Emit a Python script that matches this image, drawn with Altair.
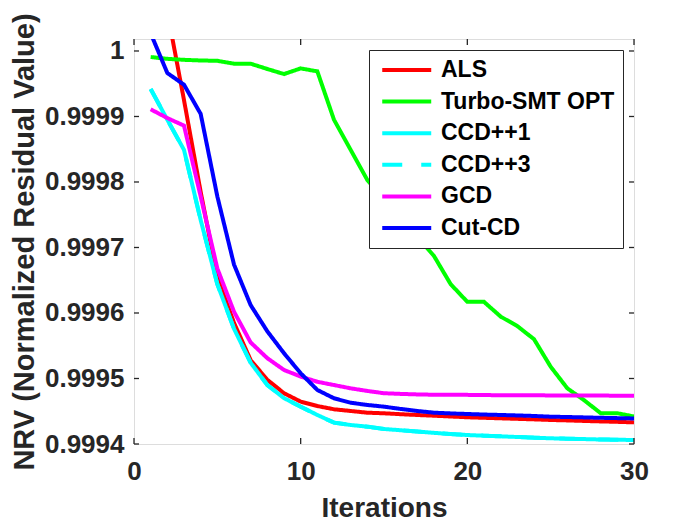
import altair as alt
import pandas as pd

iterations = list(range(1, 31))
series_names = ["ALS", "Turbo-SMT OPT", "CCD++1", "CCD++3", "GCD", "Cut-CD"]
series_colors = ["#FF0000", "#00FF00", "#00FFFF", "#00FFFF", "#FF00FF", "#0000FF"]
series_dash = [[1, 0], [1, 0], [1, 0], [20, 19], [1, 0], [1, 0]]

als = [1.00015, 1.00006, 0.999925, 0.999785, 0.999655, 0.999585, 0.999528, 0.999498, 0.9994775, 0.9994647,
       0.999458, 0.999453, 0.9994504, 0.9994478, 0.9994469, 0.9994455, 0.9994443, 0.9994432, 0.999442, 0.9994408,
       0.99944, 0.9994392, 0.9994384, 0.9994376, 0.9994367, 0.999436, 0.9994352, 0.9994345, 0.9994338, 0.999433]
turbo = [0.9999908, 0.999988, 0.9999865, 0.9999855, 0.999985, 0.9999806, 0.9999806, 0.9999725, 0.9999648, 0.9999734,
         0.9999689, 0.999895, 0.999849, 0.999803, 0.999774, 0.999745, 0.999716, 0.999687, 0.999644, 0.999617,
         0.999617, 0.9995945, 0.99958, 0.99956, 0.999518, 0.999485, 0.999467, 0.999447, 0.999447, 0.999442]
ccd1 = [0.999942, 0.999895, 0.999849, 0.999742, 0.999644, 0.999576, 0.999524, 0.99949, 0.99947, 0.999457,
        0.9994443, 0.9994326, 0.999429, 0.9994265, 0.9994229, 0.999421, 0.999419, 0.999417, 0.9994152, 0.9994137,
        0.9994127, 0.9994117, 0.9994107, 0.9994097, 0.9994087, 0.9994081, 0.9994075, 0.9994069, 0.9994065, 0.9994061]
ccd3 = [0.999942, 0.999895, 0.999849, 0.999742, 0.999644, 0.999576, 0.999524, 0.99949, 0.99947, 0.999457,
        0.9994443, 0.9994326, 0.999429, 0.9994265, 0.9994229, 0.999421, 0.999419, 0.999417, 0.9994152, 0.9994137,
        0.9994127, 0.9994117, 0.9994107, 0.9994097, 0.9994087, 0.9994081, 0.9994075, 0.9994069, 0.9994065, 0.9994061]
gcd = [0.999911, 0.9998976, 0.999886, 0.999778, 0.999668, 0.999602, 0.999555, 0.999531, 0.999513, 0.999503,
       0.999495, 0.99949, 0.999485, 0.999481, 0.9994775, 0.9994765, 0.9994757, 0.9994752, 0.999475, 0.999475,
       0.9994747, 0.9994745, 0.9994744, 0.9994743, 0.9994742, 0.9994741, 0.999474, 0.9994739, 0.9994738, 0.9994737]
cutcd = [1.000027, 0.9999664, 0.9999485, 0.999904, 0.999778, 0.999674, 0.999612, 0.999572, 0.9995386, 0.999508,
         0.9994825, 0.9994698, 0.999463, 0.9994596, 0.999457, 0.9994535, 0.9994504, 0.9994478, 0.9994467, 0.9994458,
         0.999445, 0.9994443, 0.9994436, 0.9994428, 0.9994417, 0.9994412, 0.9994406, 0.99944, 0.9994395, 0.999439]

x_ticks = [0, 10, 20, 30]
y_ticks = [0.9994, 0.9995, 0.9996, 0.9997, 0.9998, 0.9999, 1.0]
x_domain = [0, 30]
y_domain = [0.9994, 1.0000183]

all_series = [als, turbo, ccd1, ccd3, gcd, cutcd]
rows = []
for name, vals in zip(series_names, all_series):
    for it, v in zip(iterations, vals):
        rows.append({"series": name, "iter": it, "nrv": v})
df = pd.DataFrame(rows)

W, H = 500, 405
FONT = "Liberation Sans"
AX = "#262626"

xs = alt.Scale(domain=x_domain, nice=False, zero=False)
ys = alt.Scale(domain=y_domain, nice=False, zero=False)

x_axis = alt.Axis(values=x_ticks, title="Iterations", grid=False, domain=False, ticks=False,
                  labelFont=FONT, labelFontWeight="bold", labelFontSize=26, labelColor=AX,
                  labelPadding=14, titleFont=FONT, titleFontWeight="bold", titleFontSize=28,
                  titleColor=AX, titlePadding=10, labelFlush=False)
y_axis = alt.Axis(values=y_ticks, title="NRV (Normalized Residual Value)", grid=False, domain=False,
                  ticks=False, labelFont=FONT, labelFontWeight="bold", labelFontSize=26, labelColor=AX,
                  labelPadding=10,
                  labelExpr="datum.value >= 0.99999 ? '1' : format(datum.value, '.4f')",
                  titleFont=FONT, titleFontWeight="bold", titleFontSize=29, titleColor=AX,
                  titlePadding=5, labelFlush=False)

legend_kw = dict(orient="none", legendX=235, legendY=11, title=None,
                 symbolType="M-0.69,0H4.31", symbolSize=384, symbolStrokeWidth=4,
                 labelFont=FONT, labelFontWeight="bold", labelFontSize=23,
                 labelColor="black", labelOffset=40, strokeColor=AX, fillColor="white",
                 padding=8, rowPadding=7.6, labelLimit=400)

lines = alt.Chart(df).mark_line(strokeWidth=4, clip=True).encode(
    x=alt.X("iter:Q", scale=xs, axis=x_axis),
    y=alt.Y("nrv:Q", scale=ys, axis=y_axis),
    color=alt.Color("series:N", scale=alt.Scale(domain=series_names, range=series_colors),
                    legend=alt.Legend(**legend_kw)),
    strokeDash=alt.StrokeDash("series:N", scale=alt.Scale(domain=series_names, range=series_dash),
                              legend=alt.Legend(**legend_kw)),
)

ydf = pd.DataFrame({"iter": [0] * len(y_ticks), "nrv": y_ticks})
xdf = pd.DataFrame({"iter": x_ticks, "nrv": [0.9994] * len(x_ticks)})
tick_style = dict(color=AX, strokeWidth=1.3)
yl = alt.Chart(ydf).mark_rule(**tick_style).encode(y=alt.Y("nrv:Q", scale=ys, axis=y_axis),
                                                   x=alt.value(0), x2=alt.value(5))
yr = alt.Chart(ydf).mark_rule(**tick_style).encode(y=alt.Y("nrv:Q", scale=ys, axis=y_axis),
                                                   x=alt.value(W - 5), x2=alt.value(W))
xb = alt.Chart(xdf).mark_rule(**tick_style).encode(x=alt.X("iter:Q", scale=xs, axis=x_axis),
                                                   y=alt.value(H - 6), y2=alt.value(H))
xt = alt.Chart(xdf).mark_rule(**tick_style).encode(x=alt.X("iter:Q", scale=xs, axis=x_axis),
                                                   y=alt.value(0), y2=alt.value(6))

chart = alt.layer(lines, yl, yr, xb, xt).properties(
    width=W, height=H,
    autosize=alt.AutoSizeParams(type="none"),
    padding={"left": 126, "top": 31, "right": 50, "bottom": 78},
).configure_view(stroke=AX, strokeWidth=1.3).configure(background="white")

chart.save("out.html", embed_options={"renderer": "svg", "actions": False})
